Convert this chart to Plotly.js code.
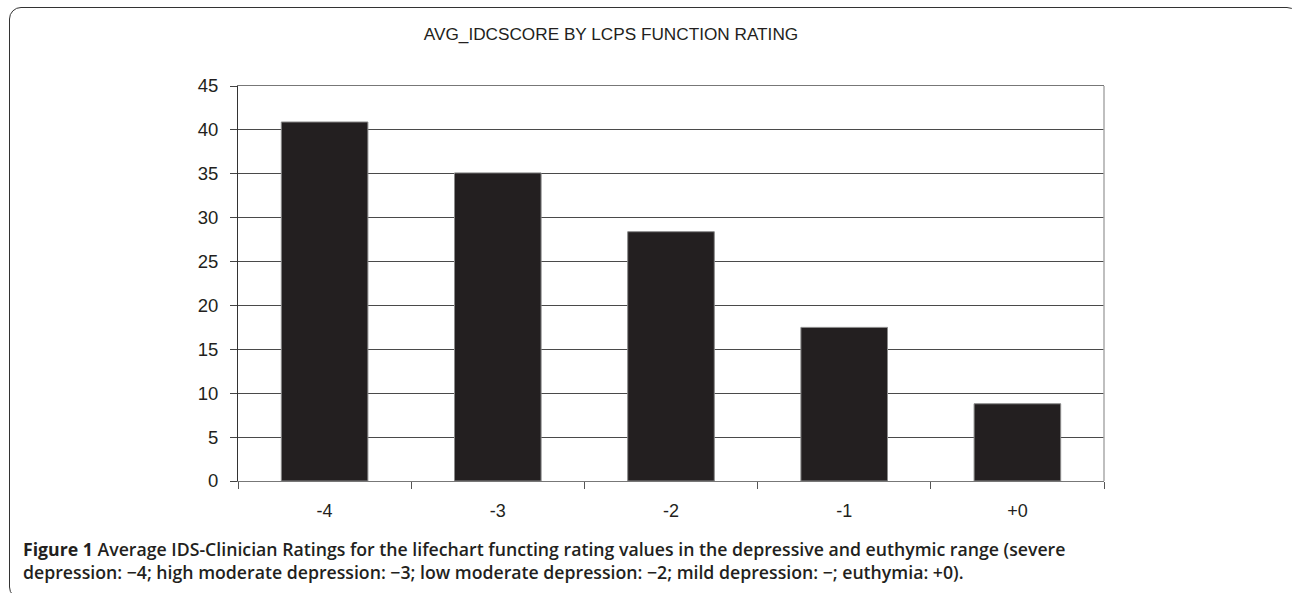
<!DOCTYPE html>
<html>
<head>
<meta charset="utf-8">
<script src="https://cdn.plot.ly/plotly-3.0.1.min.js"></script>
<style>
  html, body { margin: 0; padding: 0; background: #fff; }
  #wrap { position: relative; width: 1292px; height: 593px; overflow: hidden; }
  #chart { position: absolute; left: 0; top: 0; width: 1292px; height: 593px; }
  #frame { position: absolute; left: 9px; top: 7px; width: 1290px; height: 592px;
           border: 1.5px solid #333; border-radius: 12px; box-sizing: border-box; pointer-events: none; }
</style>
</head>
<body>
<div id="wrap">
  <div id="chart"></div>
  <div id="frame"></div>
</div>
<script>
// Data
const categories = ['-4', '-3', '-2', '-1', '+0'];
const avgScores = [40.9, 35.1, 28.4, 17.5, 8.8];
const yTickValues = [0, 5, 10, 15, 20, 25, 30, 35, 40, 45];

const chartTitle = 'AVG_IDCSCORE BY LCPS FUNCTION RATING';
const captionLine1 = '<b>Figure 1</b> Average IDS-Clinician Ratings for the lifechart functing rating values in the depressive and euthymic range (severe';
const captionLine2 = 'depression: \u22124; high moderate depression: \u22123; low moderate depression: \u22122; mild depression: \u2212; euthymia: +0).';

// Layout geometry (pixels)
const W = 1292, H = 593;
const plotL = 238, plotR = 1104, plotT = 86, plotB = 481;
const plotW = plotR - plotL;
const plotH = plotB - plotT;
const px2x = px => (px - plotL) / plotW;
const py2y = py => (plotB - py) / plotH;

const trace = {
  type: 'bar',
  x: categories,
  y: avgScores,
  marker: { color: '#231f20', line: { color: '#8a8a8a', width: 1 } },
  hoverinfo: 'x+y'
};

const layout = {
  width: W,
  height: H,
  margin: { l: plotL, r: W - plotR, t: plotT, b: H - plotB, pad: 0 },
  paper_bgcolor: '#ffffff',
  plot_bgcolor: '#ffffff',
  showlegend: false,
  bargap: 0.5,
  font: { family: 'Liberation Sans, Arial, sans-serif', color: '#231f20' },
  title: {
    text: chartTitle,
    font: { family: 'Liberation Sans, Arial, sans-serif', size: 17.2, color: '#231f20' },
    xref: 'paper', x: px2x(611), xanchor: 'center',
    yref: 'container', y: 1 - 34 / H, yanchor: 'middle'
  },
  xaxis: {
    type: 'category',
    tickson: 'boundaries',
    ticks: 'outside',
    ticklen: 7,
    tickcolor: '#555',
    tickwidth: 1,
    showline: true,
    mirror: true,
    linecolor: '#777',
    linewidth: 1,
    showgrid: false,
    zeroline: false,
    ticklabelstandoff: 13,
    tickfont: { family: 'Liberation Sans, Arial, sans-serif', size: 18, color: '#231f20' }
  },
  yaxis: {
    range: [0, 45],
    tickmode: 'array',
    tickvals: yTickValues,
    ticktext: yTickValues.map(String),
    ticks: 'outside',
    ticklen: 7,
    tickcolor: '#444',
    tickwidth: 1,
    showline: true,
    linecolor: '#333',
    linewidth: 1,
    showgrid: true,
    gridcolor: '#4a4a4a',
    gridwidth: 1,
    zeroline: false,
    ticklabelstandoff: 8,
    tickfont: { family: 'Liberation Sans, Arial, sans-serif', size: 18.5, color: '#231f20' }
  },
  shapes: [
    { type: 'line', xref: 'paper', yref: 'paper', x0: 1, x1: 1, y0: 0, y1: 1,
      line: { color: '#aaaaaa', width: 1.5 } }
  ],
  annotations: [
    { text: captionLine1, xref: 'paper', yref: 'paper', x: px2x(21), y: py2y(549),
      xanchor: 'left', yanchor: 'middle', showarrow: false, align: 'left',
      font: { family: 'Open Sans, Noto Sans, sans-serif', size: 17.7, weight: 600, color: '#231f20' } },
    { text: captionLine2, xref: 'paper', yref: 'paper', x: px2x(21), y: py2y(572),
      xanchor: 'left', yanchor: 'middle', showarrow: false, align: 'left',
      font: { family: 'Open Sans, Noto Sans, sans-serif', size: 17.7, weight: 600, color: '#231f20' } }
  ]
};

Plotly.newPlot('chart', [trace], layout, { displayModeBar: false, staticPlot: true });
</script>
</body>
</html>
